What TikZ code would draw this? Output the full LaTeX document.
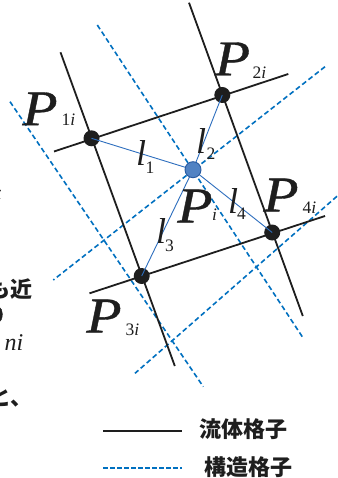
\documentclass[tikz,border=0pt]{standalone}
\usepackage{fontspec}
\setmainfont{Liberation Serif}
\newfontfamily\Pfont{Liberation Serif}[ItalicFeatures={FakeBold=0.7}]
\newfontfamily\cjk{Noto Sans CJK JP}
\definecolor{gridblue}{RGB}{0,112,192}
\definecolor{linkblue}{RGB}{45,110,190}
\definecolor{dotblue}{RGB}{80,130,195}
\definecolor{dotedge}{RGB}{40,90,160}
\definecolor{inkc}{RGB}{30,30,30}
\begin{document}
\begin{tikzpicture}[x=1pt,y=-1pt,
  fluid/.style={draw=inkc,line width=1.8pt},
  struct/.style={draw=gridblue,line width=1.6pt,dash pattern=on 5pt off 3pt},
  link/.style={draw=linkblue,line width=0.9pt},
  meshdot/.style={circle,fill=inkc,inner sep=0pt,minimum size=16pt},
  centdot/.style={circle,fill=dotblue,draw=dotedge,line width=0.9pt,inner sep=0pt,minimum size=16pt},
  bigP/.style={inner sep=0pt,text=inkc,font=\Pfont\fontsize{50}{50}\selectfont\itshape},
  subsc/.style={inner sep=0pt,anchor=base west,text=inkc,font=\fontsize{17.5}{17.5}\selectfont},
  ell/.style={inner sep=0pt,anchor=base west,text=inkc,font=\fontsize{36}{36}\selectfont\itshape},
  legendtext/.style={inner sep=0pt,anchor=west,text=inkc,font=\cjk\bfseries\fontsize{22}{22}\selectfont},
  frag/.style={inner sep=0pt,text=inkc},
]
\useasboundingbox[fill=white] (0,0) rectangle (337,478);

% mesh points
\coordinate (P1) at (91.5,138.3);
\coordinate (P2) at (222.3,95);
\coordinate (P3) at (141.7,276);
\coordinate (P4) at (272.2,232.5);
\coordinate (Pc) at (193,169.7);

% fluid grid end points
\coordinate (a1) at (54,151.5);   \coordinate (a2) at (288.3,74);
\coordinate (b1) at (89.5,293.3); \coordinate (b2) at (325,216);
\coordinate (c1) at (60.5,52.3);  \coordinate (c2) at (174.8,366);
\coordinate (d1) at (189,2.7);    \coordinate (d2) at (302.8,316);

% structure grid end points
\coordinate (s1) at (97.3,25);    \coordinate (s2) at (303.3,338.3);
\coordinate (t1) at (10,101.7);   \coordinate (t2) at (203.3,386.7);
\coordinate (u1) at (325,66.7);   \coordinate (u2) at (53.3,280);
\coordinate (v1) at (343,191);    \coordinate (v2) at (135,373.3);

\draw[struct] (s1) -- (s2);
\draw[struct] (t1) -- (t2);
\draw[struct] (u1) -- (u2);
\draw[struct] (v1) -- (v2);

\draw[fluid] (a1) -- (a2);
\draw[fluid] (b1) -- (b2);
\draw[fluid] (c1) -- (c2);
\draw[fluid] (d1) -- (d2);

\node[meshdot] (n1) at (P1) {};
\node[meshdot] (n2) at (P2) {};
\node[meshdot] (n3) at (P3) {};
\node[meshdot] (n4) at (P4) {};

\draw[link] (Pc) -- (n1.center);
\draw[link] (Pc) -- (n2.center);
\draw[link] (Pc) -- (n3.center);
\draw[link] (Pc) -- (n4.center);

\node[centdot] (nc) at (Pc) {};

% labels of points
\node[bigP] (lP1) at (40,108.8) {\scalebox{1.15}[1]{P}};
\node[subsc] (sP1) at (61.5,126) {1\itshape i};
\node[bigP] (lP2) at (232.5,58.9) {\scalebox{1.15}[1]{P}};
\node[subsc] (sP2) at (252.5,78.3) {2\itshape i};
\node[bigP] (lPc) at (195,206) {\scalebox{1.15}[1]{P}};
\node[subsc] (sPc) at (212,220.5) {\itshape i};
\node[bigP] (lP4) at (281,195) {\scalebox{1.15}[1]{P}};
\node[subsc] (sP4) at (302.5,213.3) {4\itshape i};
\node[bigP] (lP3) at (104,316) {\scalebox{1.15}[1]{P}};
\node[subsc] (sP3) at (125.5,335) {3\itshape i};

% distances
\node[ell] (l1) at (136,166) {l};
\node[subsc] (l1s) at (145.5,174) {1};
\node[ell] (l2) at (196,154) {l};
\node[subsc] (l2s) at (206.5,160) {2};
\node[ell] (l3) at (156,243) {l};
\node[subsc] (l3s) at (165,251) {3};
\node[ell] (l4) at (228,213) {l};
\node[subsc] (l4s) at (237,219) {4};

% legend
\coordinate (k1) at (103.3,431);   \coordinate (k2) at (181.7,431);
\coordinate (m1) at (103.3,467.7); \coordinate (m2) at (181.7,467.7);
\draw[fluid,line width=1.7pt] (k1) -- (k2);
\draw[struct,line width=1.6pt,dash pattern=on 4.5pt off 2.5pt] (m1) -- (m2);
\node[legendtext] (lg1) at (199,429) {流体格子};
\node[legendtext] (lg2) at (204,466.7) {構造格子};

% cut-off fragments of surrounding text at the left edge
\node[frag,anchor=base east,font=\fontsize{20}{20}\selectfont\itshape] (f0) at (1.5,200) {x};
\node[frag,anchor=base east,font=\cjk\bfseries\fontsize{22}{22}\selectfont] (f1) at (33,297) {も近};
\node[frag,anchor=base east,font=\Pfont\fontsize{56}{56}\selectfont\itshape] (f2) at (4,341) {P};
\node[frag,anchor=base west,font=\fontsize{24}{24}\selectfont\itshape] (f3) at (4.5,350) {ni};
\node[frag,anchor=base east,font=\cjk\bfseries\fontsize{22}{22}\selectfont] (f4) at (33,405) {と、};
\end{tikzpicture}
\end{document}
